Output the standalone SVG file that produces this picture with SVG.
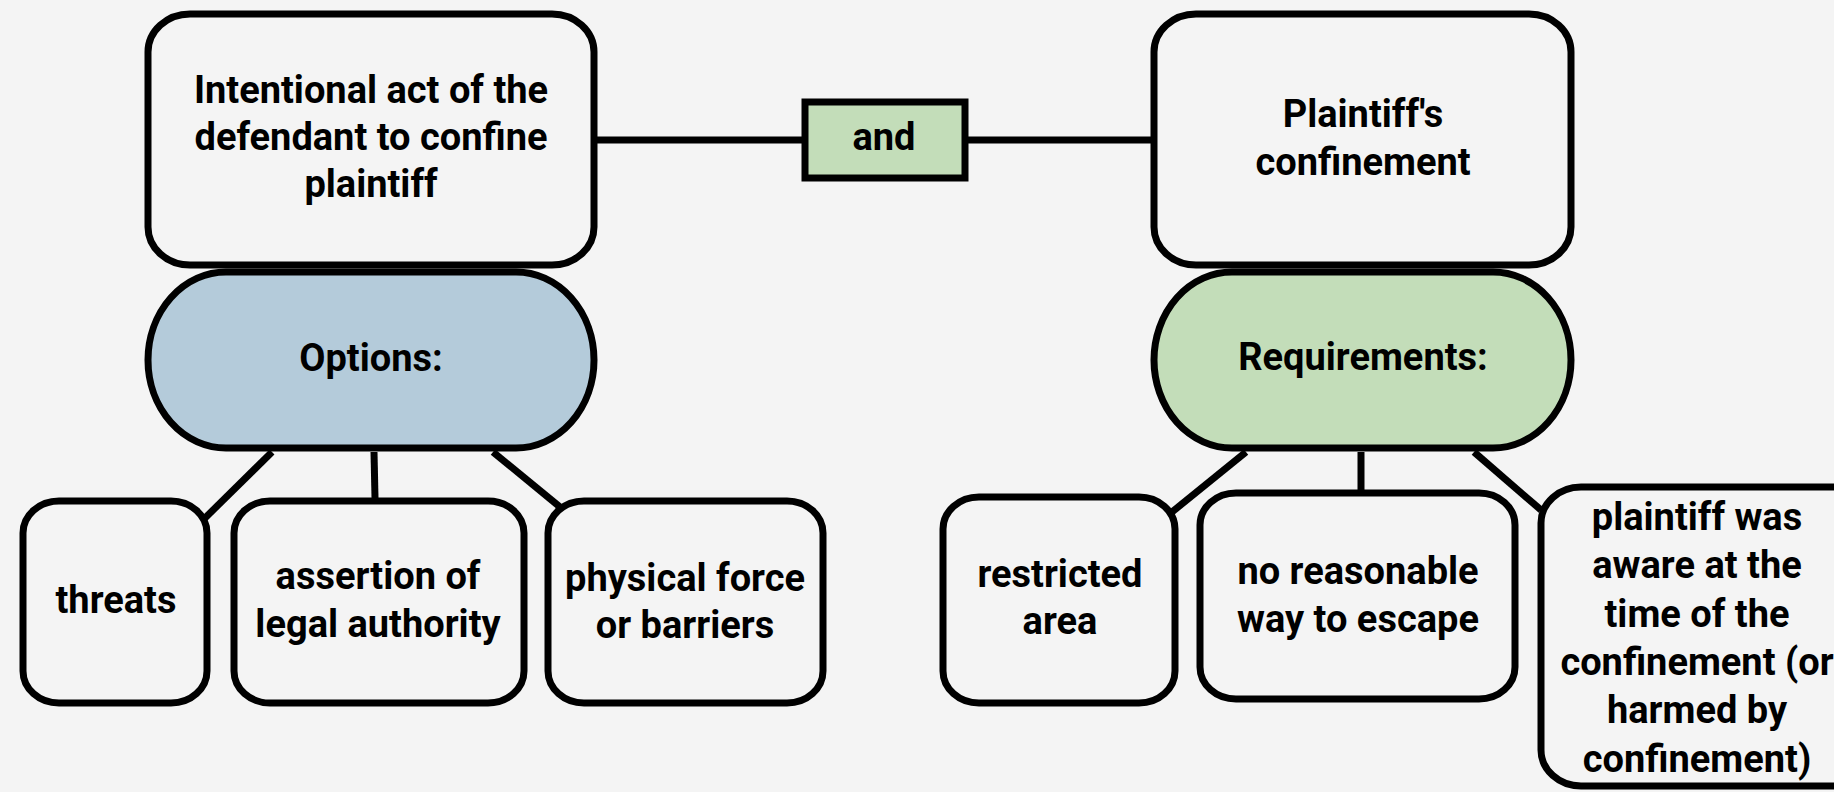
<svg xmlns="http://www.w3.org/2000/svg" width="1834" height="792" viewBox="0 0 1834 792">
<style>
.bx{fill:#f4f4f4;stroke:#000;stroke-width:7}
.opt{fill:#b4cbda;stroke:#000;stroke-width:7}
.req{fill:#c3ddb9;stroke:#000;stroke-width:7}
.ln{stroke:#000;stroke-width:7;fill:none}
text{font-family:Roboto,"Noto Sans",sans-serif;font-weight:bold;font-size:38px;fill:#000;text-anchor:middle}
</style>
<rect width="1834" height="792" fill="#f4f4f4"/>
<g id="connectors">
<line class="ln" x1="597" y1="140" x2="802" y2="140"/>
<line class="ln" x1="966" y1="140" x2="1152" y2="140"/>
<line class="ln" x1="272" y1="452" x2="205" y2="518"/>
<line class="ln" x1="374" y1="452" x2="375" y2="498"/>
<line class="ln" x1="493" y1="452" x2="560" y2="507"/>
<line class="ln" x1="1246" y1="452" x2="1172" y2="512"/>
<line class="ln" x1="1361" y1="452" x2="1361" y2="490"/>
<line class="ln" x1="1474" y1="452" x2="1541" y2="510"/>
</g>
<g id="intentional">
<rect class="bx" x="148" y="14" width="446" height="251" rx="42" ry="38"/>
<text x="371" y="103">Intentional act of the</text>
<text x="371" y="150">defendant to confine</text>
<text x="371" y="197">plaintiff</text>
</g>
<g id="options">
<rect class="opt" x="148" y="272" width="446" height="176" rx="78" ry="88"/>
<text x="371" y="371">Options:</text>
</g>
<g id="and">
<rect class="req" x="805" y="102" width="160" height="76"/>
<text x="884" y="150">and</text>
</g>
<g id="confinement">
<rect class="bx" x="1154" y="14" width="417" height="251" rx="42" ry="38"/>
<text x="1363" y="127">Plaintiff's</text>
<text x="1363" y="175">confinement</text>
</g>
<g id="requirements">
<rect class="req" x="1154" y="272" width="417" height="176" rx="78" ry="88"/>
<text x="1363" y="370">Requirements:</text>
</g>
<g id="threats">
<rect class="bx" x="23" y="501" width="184" height="202" rx="36" ry="32"/>
<text x="116" y="613">threats</text>
</g>
<g id="assertion">
<rect class="bx" x="234" y="501" width="290" height="202" rx="36" ry="32"/>
<text x="378" y="589">assertion of</text>
<text x="378" y="637">legal authority</text>
</g>
<g id="physical">
<rect class="bx" x="548" y="501" width="275" height="202" rx="36" ry="32"/>
<text x="685" y="591">physical force</text>
<text x="685" y="638">or barriers</text>
</g>
<g id="restricted">
<rect class="bx" x="943" y="497" width="232" height="206" rx="36" ry="32"/>
<text x="1060" y="587">restricted</text>
<text x="1060" y="634">area</text>
</g>
<g id="escape">
<rect class="bx" x="1200" y="493" width="315" height="206" rx="36" ry="32"/>
<text x="1358" y="584">no reasonable</text>
<text x="1358" y="632">way to escape</text>
</g>
<g id="aware">
<rect class="bx" x="1541" y="487" width="340" height="299" rx="40" ry="36"/>
<text x="1697" y="530">plaintiff was</text>
<text x="1697" y="578">aware at the</text>
<text x="1697" y="627">time of the</text>
<text x="1697" y="675">confinement (or</text>
<text x="1697" y="723">harmed by</text>
<text x="1697" y="772">confinement)</text>
</g>
</svg>
